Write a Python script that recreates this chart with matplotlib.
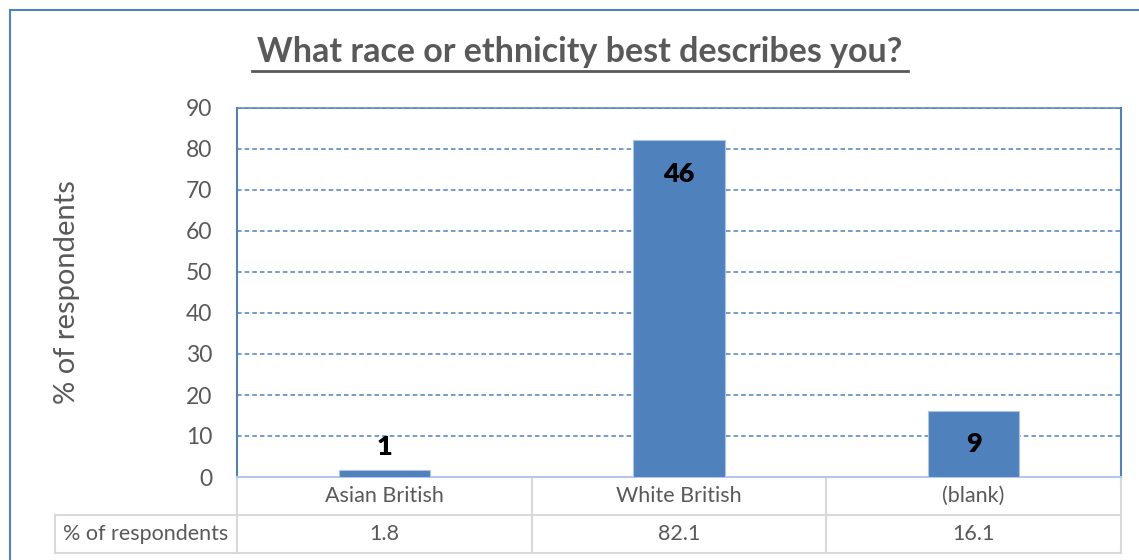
import matplotlib.pyplot as plt
from matplotlib.patches import Rectangle

categories = ["Asian British", "White British", "(blank)"]
percent = [1.8, 82.1, 16.1]
counts = [1, 46, 9]
yticks = [0, 10, 20, 30, 40, 50, 60, 70, 80, 90]

blue = "#4f81bd"
grey_text = "#595959"
table_grey = "#d9d9d9"

plt.rcParams["font.family"] = ["Lato", "DejaVu Sans"]

W, H = 1139, 560
fig = plt.figure(figsize=(W / 100, H / 100), dpi=100)

# outer chart border
fig.patches.append(Rectangle((10 / W, -0.1), 1.2, 1 - 10 / H + 0.1,
                             transform=fig.transFigure, fill=False,
                             edgecolor=blue, linewidth=1.5))

left, right, top, bottom = 237, 1121, 108, 477
ax = fig.add_axes([left / W, 1 - bottom / H, (right - left) / W, (bottom - top) / H])

x = range(len(categories))
ax.bar(x, percent, width=0.31, color=blue, edgecolor="#a9c4e4", linewidth=0.8, zorder=3)

for i, (p, c) in enumerate(zip(percent, counts)):
    if p < 8:
        ax.text(i, p + 2.6, str(c), ha="center", va="bottom", fontsize=19.5,
                fontweight="heavy", color="black", zorder=4)
    else:
        ax.text(i, p - 8.1, str(c), ha="center", va="center", fontsize=19.5,
                fontweight="heavy", color="black", zorder=4)

ax.set_xlim(-0.5, len(categories) - 0.5)
ax.set_ylim(0, 90)
ax.set_yticks(yticks)
ax.tick_params(axis="y", length=0, labelsize=16.5, labelcolor=grey_text, pad=18)
ax.set_xticks([])
ax.grid(axis="y", color=blue, linestyle=(0, (3, 2)), linewidth=1.1, zorder=0)
for s in ["left", "right"]:
    ax.spines[s].set_color(blue)
    ax.spines[s].set_linewidth(1.5)
ax.spines["top"].set_color(blue)
ax.spines["top"].set_linestyle((0, (3, 1)))
ax.spines["top"].set_linewidth(1.1)
ax.spines["bottom"].set_color("#b4c7e7")
ax.spines["bottom"].set_linewidth(1.5)

ax.set_ylabel("% of respondents", fontsize=21, color=grey_text)
ax.yaxis.set_label_coords((80 - left) / (right - left), 0.5)

fig.text((252 + 908) / 2 / W, 1 - 52 / H, "What race or ethnicity best describes you?",
         ha="center", va="center", fontsize=24.5, fontweight="bold", color=grey_text)
fig.add_artist(plt.Line2D([252 / W, 908 / W], [1 - 71 / H, 1 - 71 / H],
                          color=grey_text, linewidth=2))

# data table below the axes
axh = bottom - top
r1 = -(515 - bottom) / axh
r2 = -(553 - bottom) / axh
hx = (55 - left) / (right - left)
tr = ax.get_xaxis_transform()
kw = dict(color=table_grey, linewidth=1.5, clip_on=False, zorder=1)
ax.plot([-0.5, 2.5], [r1, r1], transform=tr, **kw)
ax.plot([-0.5, 2.5], [r2, r2], transform=tr, **kw)
for b in [-0.5, 0.5, 1.5, 2.5]:
    ax.plot([b, b], [0, r2], transform=tr, **kw)
ta = ax.transAxes
ax.plot([hx, 0], [r1, r1], transform=ta, **kw)
ax.plot([hx, 0], [r2, r2], transform=ta, **kw)
ax.plot([hx, hx], [r1, r2], transform=ta, **kw)

for i, (cat, p) in enumerate(zip(categories, percent)):
    ax.text(i, r1 / 2, cat, transform=tr, ha="center", va="center",
            fontsize=15.5, color=grey_text)
    ax.text(i, (r1 + r2) / 2, "%.1f" % p, transform=tr, ha="center", va="center",
            fontsize=15.5, color=grey_text)
ax.text(hx / 2, (r1 + r2) / 2, "% of respondents", transform=ta, ha="center",
        va="center", fontsize=15.5, color=grey_text)

fig.savefig("out.png", dpi=100)
